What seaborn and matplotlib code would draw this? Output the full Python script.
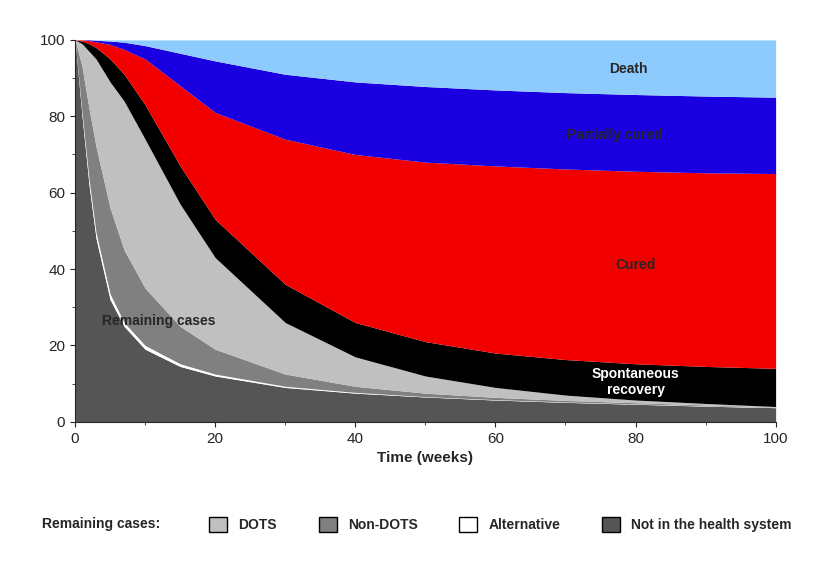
import numpy as np
import matplotlib
matplotlib.use('Agg')
import matplotlib.pyplot as plt
import seaborn as sns
from matplotlib.patches import Patch
from matplotlib.ticker import MultipleLocator

# weeks and upper edge of each stacked band (percent of cases)
weeks = [0, 1, 2, 3, 5, 7, 10, 15, 20, 30, 40, 50, 60, 70, 80, 90, 100]
not_in_system = [100, 80, 62, 48, 32, 25, 19, 14.5, 12, 9, 7.5, 6.5, 5.7, 5.1, 4.6, 4.1, 3.7]
alternative = [100, 81, 63.5, 49.5, 33.5, 26, 20, 15.2, 12.5, 9.3, 7.7, 6.6, 5.8, 5.2, 4.7, 4.2, 3.8]
non_dots = [100, 93, 82, 72, 56, 45, 35, 25, 19, 12.5, 9.3, 7.5, 6.4, 5.6, 5.0, 4.4, 3.9]
dots = [100, 99, 97, 95, 89, 84, 74, 57, 43, 26, 17, 12, 9, 7, 5.7, 4.8, 4.0]
spontaneous = [100, 99.7, 99, 98, 95, 91, 83, 67, 53, 36, 26, 21, 18, 16.3, 15.2, 14.5, 14]
cured = [100, 100, 99.8, 99.5, 98.8, 97.5, 95, 88, 81, 74, 70, 68, 67, 66.2, 65.6, 65.2, 65]
partially = [100, 100, 100, 99.9, 99.7, 99.4, 98.5, 96.5, 94.5, 91, 89, 87.8, 86.9, 86.2, 85.7, 85.3, 85]
death = [100] * len(weeks)

bands = [
    ('Not in the health system', None, not_in_system, '#555555'),
    ('Alternative', not_in_system, alternative, '#ffffff'),
    ('Non-DOTS', alternative, non_dots, '#808080'),
    ('DOTS', non_dots, dots, '#c0c0c0'),
    ('Spontaneous recovery', dots, spontaneous, '#000000'),
    ('Cured', spontaneous, cured, '#f20000'),
    ('Partially cured', cured, partially, '#1a00e0'),
    ('Death', partially, death, '#8dcbff'),
]

sns.set_style('ticks')
plt.rcParams['font.family'] = ['Liberation Sans', 'DejaVu Sans']

fig, ax = plt.subplots(figsize=(8.34, 5.70), dpi=100)
x = np.array(weeks)
for name, lo, hi, col in bands:
    lo = np.zeros(len(x)) if lo is None else np.array(lo)
    ax.fill_between(x, lo, np.array(hi), color=col, linewidth=0)

ax.set_xlim(0, 100)
ax.set_ylim(0, 100)
ax.xaxis.set_major_locator(MultipleLocator(20))
ax.xaxis.set_minor_locator(MultipleLocator(10))
ax.yaxis.set_major_locator(MultipleLocator(20))
ax.yaxis.set_minor_locator(MultipleLocator(10))
ax.tick_params(labelsize=11)
for s in ['top', 'right']:
    ax.spines[s].set_visible(False)
ax.set_xlabel('Time (weeks)', fontsize=11, fontweight='bold')

tk = dict(fontsize=10, fontweight='bold', ha='center', va='center')
ax.text(79, 92.5, 'Death', **tk)
ax.text(77, 75, 'Partially cured', **tk)
ax.text(80, 41, 'Cured', **tk)
ax.text(80, 10.5, 'Spontaneous\nrecovery', color='white', **tk)
ax.text(12, 26.5, 'Remaining cases', **tk)

handles = [Patch(facecolor=c, edgecolor='black', label=n) for n, c in
           [('DOTS', '#c0c0c0'), ('Non-DOTS', '#808080'), ('Alternative', '#ffffff'),
            ('Not in the health system', '#555555')]]
fig.text(0.05, 0.08, 'Remaining cases:', fontsize=10, fontweight='bold', va='center')
fig.legend(handles=handles, loc='center', bbox_to_anchor=(0.6, 0.08), ncol=4,
           frameon=False, prop={'weight': 'bold', 'size': 10}, columnspacing=3,
           handlelength=1.3, handleheight=1.3)

fig.subplots_adjust(left=0.09, right=0.93, top=0.93, bottom=0.26)
fig.savefig('out.png')
